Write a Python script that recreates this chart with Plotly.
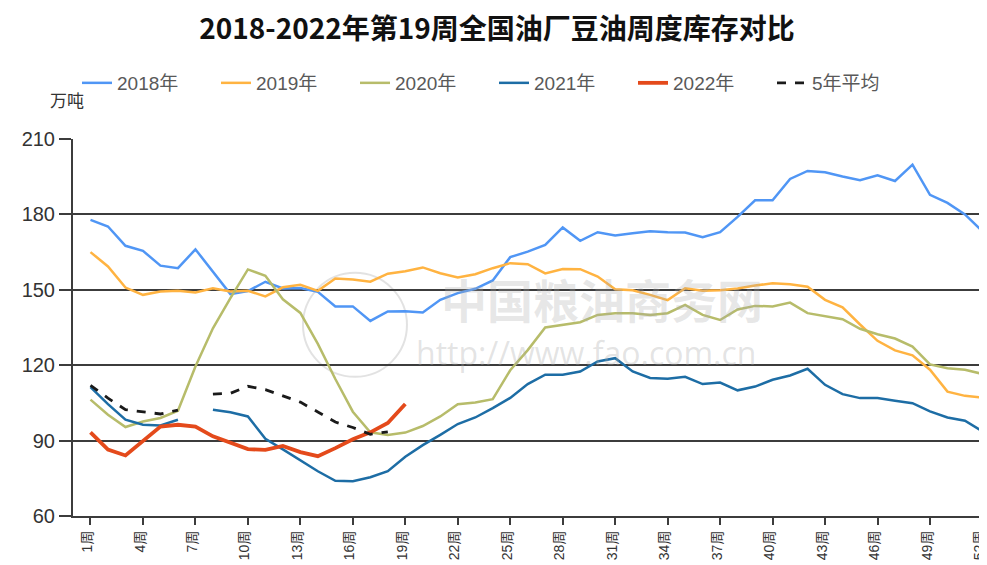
import plotly.graph_objects as go

weeks = list(range(1, 53))

y2018 = [177.8, 175.2, 167.5, 165.5, 159.6, 158.6, 166.1, 157.3, 148.3, 149.5,
         153.2, 150.5, 150.7, 149.2, 143.4, 143.4, 137.6, 141.4, 141.5, 141.0,
         146.0, 148.7, 150.4, 153.7, 163.0, 165.2, 167.9, 174.8, 169.5, 172.9,
         171.6, 172.5, 173.3, 172.9, 172.8, 170.9, 172.9, 179.0, 185.6, 185.6,
         194.1, 197.3, 196.8, 195.1, 193.6, 195.6, 193.3, 199.8, 187.8, 184.6,
         180.0, 173.3]

y2019 = [165.0, 159.3, 150.9, 148.0, 149.3, 149.6, 148.9, 150.6, 149.3, 149.6,
         147.4, 151.0, 152.0, 149.6, 154.5, 154.1, 153.2, 156.4, 157.4, 158.9,
         156.6, 154.9, 156.2, 158.6, 160.6, 160.2, 156.5, 158.3, 158.2, 155.3,
         150.2, 149.8, 148.0, 145.9, 150.6, 149.6, 149.8, 150.5, 151.7, 152.6,
         152.2, 151.2, 146.0, 143.0, 136.2, 129.7, 125.9, 123.9, 118.2, 109.5,
         107.8, 107.1]

y2020 = [106.3, 100.3, 95.4, 97.6, 99.0, 101.9, 119.5, 134.7, 146.7, 158.1,
         155.6, 146.2, 140.8, 128.5, 114.5, 101.5, 93.3, 92.2, 93.2, 95.8,
         99.6, 104.5, 105.2, 106.5, 118.0, 126.0, 135.0, 136.1, 137.1, 140.0,
         140.7, 140.7, 140.0, 140.7, 144.0, 140.0, 138.0, 142.2, 143.6, 143.4,
         144.9, 140.7, 139.4, 138.3, 134.5, 132.3, 130.6, 127.4, 120.3, 118.8,
         118.2, 116.5]

y2021 = [111.3, 104.5, 98.3, 96.3, 96.0, 98.3, None, 102.3, 101.3, 99.6,
         90.7, 86.5, 82.0, 77.8, 74.0, 73.8, 75.4, 77.8, 83.6, 88.2,
         92.3, 96.6, 99.2, 102.9, 107.0, 112.5, 116.2, 116.2, 117.5, 121.5,
         122.8, 117.5, 114.9, 114.6, 115.4, 112.5, 113.1, 110.0, 111.5, 114.2,
         115.9, 118.6, 112.2, 108.5, 106.9, 106.9, 105.9, 104.9, 101.6, 99.2,
         97.9, 93.7]

y2022 = [93.3, 86.4, 84.1, 89.7, 95.6, 96.3, 95.6, 91.7, 89.0, 86.6,
         86.3, 87.9, 85.4, 83.8, 87.0, 90.5, 93.3, 97.0, 104.6]

y_avg5 = [112.0, 106.9, 102.3, 101.3, 100.6, 102.1, None, 108.5, 108.8, 111.6,
          110.3, 107.8, 105.3, 101.4, 97.4, 95.2, 92.5, 93.5]

tick_weeks = list(range(1, 53, 3))
tick_text = [f"{w}周" for w in tick_weeks]
y_ticks = [60, 90, 120, 150, 180, 210]

series = [
    ("2018年", y2018, "#5096F5", 2.5, "solid"),
    ("2019年", y2019, "#FFB341", 2.5, "solid"),
    ("2020年", y2020, "#B7BC6A", 2.5, "solid"),
    ("2021年", y2021, "#1D6DA5", 2.5, "solid"),
    ("2022年", y2022, "#E44A1B", 3.8, "solid"),
    ("5年平均", y_avg5, "#1a1a1a", 2.8, "dash"),
]

fig = go.Figure()
for name, vals, color, width, dash in series:
    fig.add_trace(go.Scatter(
        x=weeks[:len(vals)], y=vals, name=name, mode="lines",
        line=dict(color=color, width=width, dash=dash),
        connectgaps=False,
    ))

# page body has an 8px margin, so figure coordinates are page coordinates - 8
W, H = 979, 557
grid_col = "#3c3c3c"
fig.update_layout(
    width=W, height=H,
    margin=dict(l=65, r=0, t=131, b=49, autoexpand=False),
    paper_bgcolor="white", plot_bgcolor="white",
    font=dict(family="Liberation Sans, Noto Sans CJK SC, sans-serif", color="#333333"),
    title=dict(
        text="2018-2022年第19周全国油厂豆油周度库存对比",
        font=dict(family="Noto Sans CJK SC", size=28, color="#111111", weight="bold"),
        xref="container", x=489 / W, xanchor="center",
        yref="container", y=1 - 21 / H, yanchor="middle",
    ),
    legend=dict(
        orientation="h", xref="container", yref="container",
        x=69 / W, xanchor="left", y=1 - 75 / H, yanchor="middle",
        font=dict(size=19, color="#595959", family="Liberation Sans, Noto Sans CJK SC"),
        entrywidth=94, entrywidthmode="pixels",
        bgcolor="rgba(0,0,0,0)",
    ),
    showlegend=True,
    xaxis=dict(
        range=[0, 52.26], tickmode="array", tickvals=tick_weeks, ticktext=tick_text,
        tickangle=-90, tickfont=dict(size=14, color="#333333"),
        ticklabeloverflow="allow", ticklabelshift=-3,
        ticks="outside", ticklen=7, tickwidth=1.5, tickcolor=grid_col,
        showgrid=False, zeroline=False, automargin=False,
        showline=True, linecolor=grid_col, linewidth=2,
    ),
    yaxis=dict(
        range=[60, 210], tickmode="array", tickvals=y_ticks,
        tickfont=dict(size=20, color="#333333"),
        ticks="outside", ticklen=12, tickwidth=1.5, tickcolor=grid_col,
        showgrid=True, gridcolor=grid_col, gridwidth=1.6, automargin=False,
        zeroline=False, showline=True, linecolor=grid_col, linewidth=2,
    ),
)

fig.add_annotation(
    text="万吨", xref="paper", yref="paper", x=-0.0066, y=1.104,
    xanchor="center", yanchor="middle", showarrow=False,
    font=dict(size=17, color="#333333", family="Noto Sans CJK SC"),
)
fig.add_annotation(
    text="中国粮油商务网", xref="paper", yref="paper", x=0.579, y=0.579,
    xanchor="center", yanchor="middle", showarrow=False,
    font=dict(size=46, color="rgba(170,170,170,0.28)", family="Noto Sans CJK SC", weight="bold"),
)
fig.add_annotation(
    text="http://www.fao.com.cn", xref="paper", yref="paper", x=0.561, y=0.435,
    xanchor="center", yanchor="middle", showarrow=False,
    font=dict(size=32, color="rgba(170,170,170,0.33)", family="Open Sans"),
)
fig.add_shape(
    type="circle", xref="paper", yref="paper", xsizemode="pixel", ysizemode="pixel",
    xanchor=0.3085, yanchor=0.507, x0=-52, x1=52, y0=-52, y1=52,
    line=dict(color="rgba(190,190,190,0.45)", width=2), layer="below",
)

fig.write_html("out.html")
